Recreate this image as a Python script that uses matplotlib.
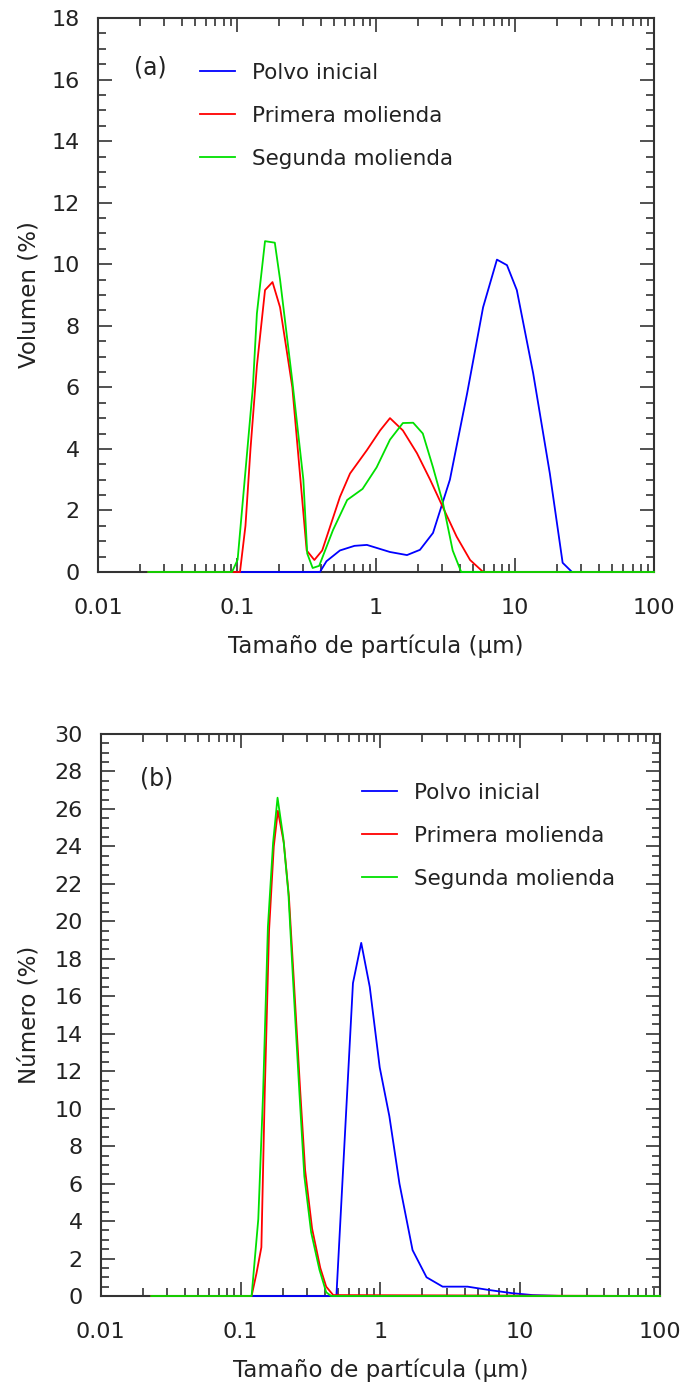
"""
Particle size distributions (volume and number) for the three powders.
"""

import matplotlib
matplotlib.use("Agg")
from matplotlib import pyplot as plt
from matplotlib.ticker import MultipleLocator, LogLocator, FixedLocator

plt.rcParams['font.family'] = ['DejaVu Sans']

series_names = ["Polvo inicial", "Primera molienda", "Segunda molienda"]
series_colors = ["#0000ff", "#ff0000", "#00e000"]

# (a) volume distribution, particle size in um
vol_inicial_x = [0.1, 0.395, 0.44, 0.55, 0.7, 0.86, 1.26, 1.67, 2.07, 2.57, 3.4,
                 4.52, 5.89, 7.41, 8.75, 10.3, 13.5, 17.8, 22, 25.7, 100]
vol_inicial_y = [0, 0, 0.35, 0.7, 0.85, 0.88, 0.65, 0.55, 0.72, 1.27, 3.0,
                 5.8, 8.6, 10.15, 9.97, 9.16, 6.46, 3.2, 0.3, 0, 0]

vol_primera_x = [0.023, 0.105, 0.115, 0.125, 0.139, 0.159, 0.18, 0.204, 0.25, 0.317,
                 0.36, 0.41, 0.55, 0.65, 0.86, 1.07, 1.26, 1.56, 1.97, 2.45, 3.03,
                 3.8, 4.75, 5.9, 100]
vol_primera_y = [0, 0, 1.5, 4.0, 6.7, 9.16, 9.42, 8.6, 6.0, 0.7,
                 0.39, 0.7, 2.44, 3.2, 3.96, 4.6, 5.0, 4.6, 3.86, 3.0, 2.1,
                 1.15, 0.39, 0, 0]

vol_segunda_x = [0.023, 0.092, 0.101, 0.13, 0.139, 0.159, 0.187, 0.204, 0.25, 0.30,
                 0.32, 0.35, 0.39, 0.49, 0.62, 0.80, 1.01, 1.26, 1.56, 1.85, 2.17,
                 2.57, 3.03, 3.56, 4.1, 100]
vol_segunda_y = [0, 0, 0.4, 6.0, 8.4, 10.75, 10.7, 9.5, 6.2, 3.0,
                 0.6, 0.13, 0.2, 1.36, 2.34, 2.7, 3.4, 4.3, 4.84, 4.85, 4.5,
                 3.4, 2.24, 0.7, 0, 0]

# (b) number distribution
num_inicial_x = [0.12, 0.485, 0.637, 0.73, 0.84, 0.99, 1.16, 1.37, 1.7, 2.14,
                 2.79, 4.2, 6.0, 8.8, 12.3, 20, 100]
num_inicial_y = [0, 0, 16.7, 18.85, 16.5, 12.2, 9.6, 6.0, 2.45, 1.0,
                 0.5, 0.5, 0.32, 0.15, 0.05, 0, 0]

num_primera_x = [0.023, 0.12, 0.13, 0.141, 0.149, 0.16, 0.173, 0.185, 0.204, 0.222,
                 0.24, 0.267, 0.29, 0.325, 0.372, 0.41, 0.46, 100]
num_primera_y = [0, 0, 1.2, 2.6, 10.8, 19.5, 24.0, 25.9, 24.2, 21.3,
                 17.0, 11.0, 6.7, 3.6, 1.5, 0.5, 0.05, 0]

num_segunda_x = [0.023, 0.12, 0.134, 0.145, 0.157, 0.171, 0.184, 0.202, 0.22, 0.237,
                 0.264, 0.286, 0.32, 0.367, 0.41, 0.445, 100]
num_segunda_y = [0, 0, 4.1, 10.8, 19.7, 24.2, 26.6, 24.5, 21.5, 17.0,
                 10.8, 6.4, 3.4, 1.4, 0.2, 0, 0]

x_ticks = [0.01, 0.1, 1, 10, 100]
x_ticklabels = ["0.01", "0.1", "1", "10", "100"]


def style_axis(ax, ymax, ylabel, ylab_x, tag, legend_xy):
    ax.set_xscale('log')
    ax.set_xlim(0.01, 100)
    ax.set_ylim(0, ymax)
    ax.xaxis.set_major_locator(FixedLocator(x_ticks))
    ax.set_xticklabels(x_ticklabels)
    ax.xaxis.set_minor_locator(LogLocator(base=10, subs=range(2, 10), numticks=20))
    ax.yaxis.set_major_locator(MultipleLocator(2))
    ax.yaxis.set_minor_locator(MultipleLocator(0.5))

    ax.tick_params(which='both', direction='in', top=True, right=True,
                   color='#333333', width=1.2, labelcolor='#222222')
    ax.tick_params(which='major', length=10, labelsize=16, pad=13)
    ax.tick_params(which='minor', length=5.5)
    ax.tick_params(axis='x', which='major', pad=19)
    for s in ax.spines.values():
        s.set_linewidth(1.5)
        s.set_color('#333333')

    ax.set_xlabel("Tamaño de partícula (µm)", fontsize=16.5, color='#222222')
    ax.set_ylabel(ylabel, fontsize=16.5, color='#222222')
    ax.xaxis.set_label_coords(0.5, -0.112)
    ax.yaxis.set_label_coords(ylab_x, 0.5)

    ax.text(tag[1], tag[2], tag[0], transform=ax.transAxes, fontsize=17,
            ha='center', va='center', color='#222222')
    leg = ax.legend(loc='upper left', bbox_to_anchor=legend_xy, frameon=False,
                    fontsize=15.5, handlelength=1.63, handletextpad=0.8,
                    labelspacing=1.07, borderpad=0, borderaxespad=0)
    for t in leg.get_texts():
        t.set_color('#222222')


def main():
    fig = plt.figure(figsize=(6.84, 13.87), dpi=100)
    ax1 = fig.add_axes([0.1433, 0.5876, 0.8129, 0.3994])
    ax2 = fig.add_axes([0.1472, 0.0656, 0.8177, 0.4052])

    for ax, data in ((ax1, [(vol_inicial_x, vol_inicial_y),
                            (vol_primera_x, vol_primera_y),
                            (vol_segunda_x, vol_segunda_y)]),
                     (ax2, [(num_inicial_x, num_inicial_y),
                            (num_primera_x, num_primera_y),
                            (num_segunda_x, num_segunda_y)])):
        for (xs, ys), name, c in zip(data, series_names, series_colors):
            # drawn above the spines, unclipped, so the zero baselines stay visible
            ax.plot(xs, ys, color=c, lw=1.3, label=name, zorder=3, clip_on=False)

    style_axis(ax1, 18, "Volumen (%)", -0.104, ("(a)", 0.094, 0.91), (0.183, 0.9195))
    style_axis(ax2, 30, "Número (%)", -0.108, ("(b)", 0.1, 0.92), (0.467, 0.9135))

    fig.savefig("out.png", dpi=100)


if __name__ == "__main__":
    main()
